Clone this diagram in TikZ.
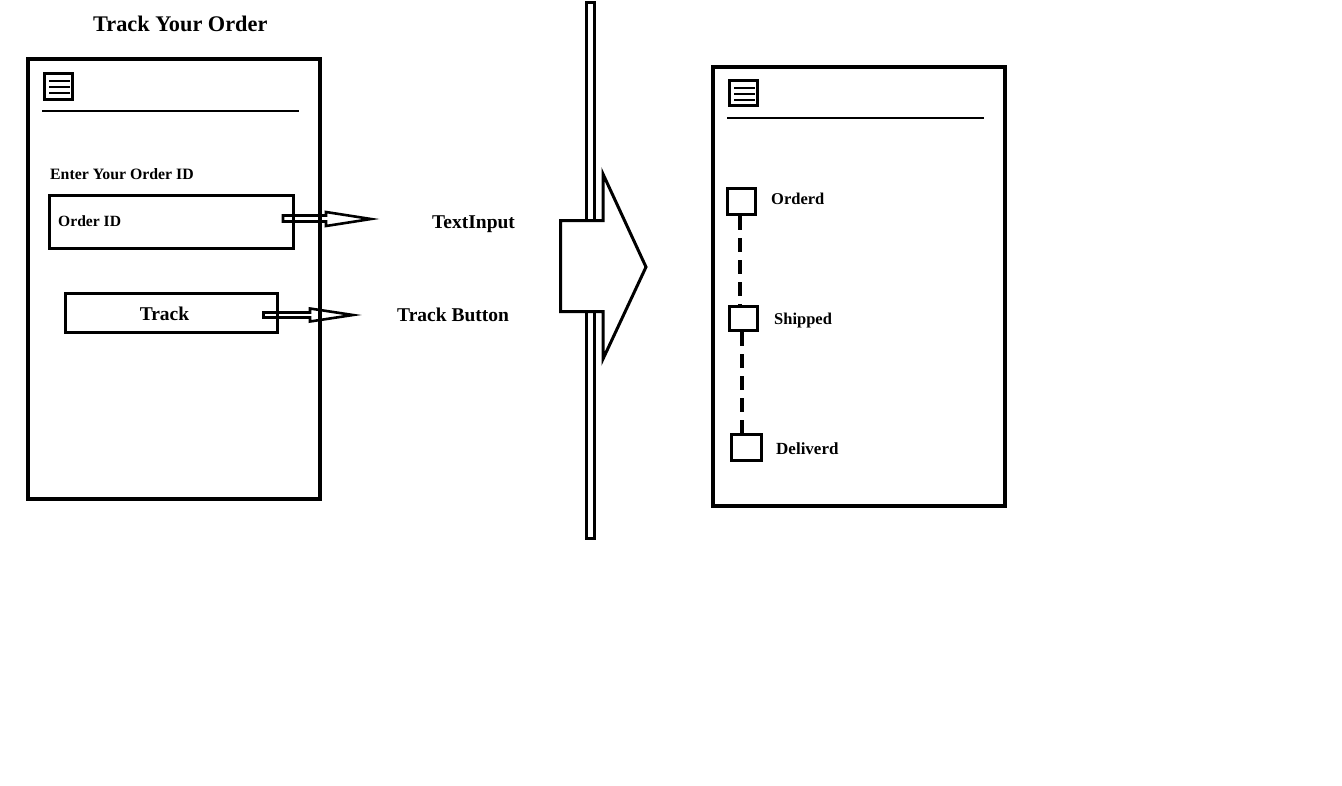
\documentclass[tikz,border=0pt]{standalone}
\usepackage{fontspec}
\setmainfont{Liberation Serif}
\begin{document}
\begin{tikzpicture}[x=1pt,y=-1pt,
  phone/.style={draw,line width=4pt,inner sep=0pt,fill=white},
  boxx/.style={draw,line width=3pt,inner sep=0pt},
  menu/.style={draw,line width=3pt,inner sep=0pt},
  menuline/.style={line width=1.2pt},
  sep/.style={line width=1.4pt},
  lbl/.style={inner sep=0pt,anchor=base west,font=\bfseries},
  hollow/.style={draw,line width=2.6pt,line join=miter,fill=none},
  dashline/.style={line width=3.2pt,dash pattern=on 14pt off 8pt}]
\useasboundingbox[fill=white] (0,0) rectangle (1342,785);
% title
\node[lbl,font=\bfseries\fontsize{22.3}{25}\selectfont] (title) at (93,31) {Track Your Order};
% left phone
\node[phone,minimum width=292pt,minimum height=440pt] (ph1) at (174,279) {};
\node[menu,minimum width=28pt,minimum height=26pt] (m1) at (58.5,86.5) {};
\draw[menuline] (49,81) -- (70,81) (49,87) -- (70,87) (49,93) -- (70,93);
\draw[sep] (42,111) -- (299,111);
\node[lbl,font=\bfseries\fontsize{15.8}{18}\selectfont] (enter) at (50,179) {Enter Your Order ID};
\node[boxx,minimum width=244pt,minimum height=53pt] (oid) at (171.5,222) {};
\node[lbl,font=\bfseries\fontsize{15.6}{18}\selectfont] (oidt) at (58,226) {Order ID};
\node[boxx,minimum width=212pt,minimum height=39pt] (trk) at (171.5,313) {};
\node[inner sep=0pt,anchor=base,font=\bfseries\fontsize{19.5}{22}\selectfont] (trkt) at (164.5,320) {Track};
% small arrows
\draw[hollow] (283,215.5) -- (326,215.5) -- (326,212) -- (371,219) -- (326,226) -- (326,221.5) -- (283,221.5) -- cycle;
\draw[hollow] (263.5,312.5) -- (310,312.5) -- (310,308.5) -- (353,315) -- (310,321.5) -- (310,317.5) -- (263.5,317.5) -- cycle;
\node[lbl,font=\bfseries\fontsize{19.5}{22}\selectfont] (ti) at (432,228) {TextInput};
\node[lbl,font=\bfseries\fontsize{19.5}{22}\selectfont] (tb) at (397,321) {Track Button};
% divider bar and big arrow
\draw[line width=3pt,fill=white] (586.5,2.5) rectangle (594.5,538.5);
\draw[line width=3pt,fill=white,line join=miter] (560.5,220.5) -- (603,220.5) -- (603,174) -- (646,267) -- (603,359) -- (603,311.5) -- (560.5,311.5) -- cycle;
% right phone
\node[phone,minimum width=292pt,minimum height=439pt] (ph2) at (859,286.5) {};
\node[menu,minimum width=28pt,minimum height=25pt] (m2) at (743.5,93) {};
\draw[menuline] (734,88) -- (755,88) (734,94) -- (755,94) (734,100) -- (755,100);
\draw[sep] (727,118) -- (984,118);
\node[boxx,minimum width=28pt,minimum height=26pt] (s1) at (741.5,201.5) {};
\node[boxx,minimum width=28pt,minimum height=24pt] (s2) at (743.5,318.5) {};
\node[boxx,minimum width=30pt,minimum height=26pt] (s3) at (746.5,447.5) {};
\coordinate (dx1) at (740,0);
\coordinate (dx2) at (742,0);
\draw[dashline] (s1.south -| dx1) -- (s2.north -| dx1);
\draw[dashline] (s2.south -| dx2) -- (s3.north -| dx2);
\node[lbl,font=\bfseries\fontsize{16.5}{19}\selectfont] (l1) at (771,204) {Orderd};
\node[lbl,font=\bfseries\fontsize{16.5}{19}\selectfont] (l2) at (774,324) {Shipped};
\node[lbl,font=\bfseries\fontsize{17}{19}\selectfont] (l3) at (776,454) {Deliverd};
\end{tikzpicture}
\end{document}
